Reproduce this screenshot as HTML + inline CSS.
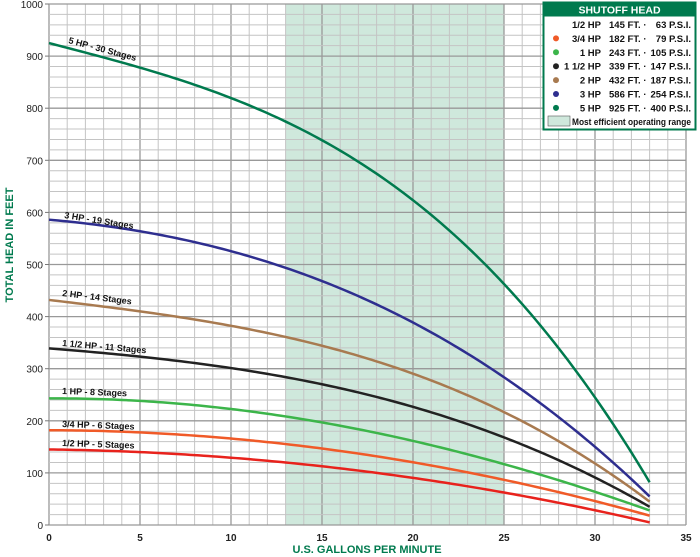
<!DOCTYPE html>
<html><head><meta charset="utf-8"><style>
html,body{margin:0;padding:0;background:#fff;}
svg{display:block;font-family:"Liberation Sans",sans-serif;}
</style></head><body>
<svg id="s" width="700" height="557" viewBox="0 0 700 557" xmlns="http://www.w3.org/2000/svg">
<rect x="0" y="0" width="700" height="557" fill="#fff"/>
<rect x="285.6" y="4" width="218.4" height="521" fill="#cfe8dc"/>
<g id="grid"></g>
<g id="curves"></g>
<g font-size="9" font-weight="bold" fill="#111">
<text transform="translate(68,43) rotate(15)">5 HP - 30 Stages</text>
<text transform="translate(64,218) rotate(9)">3 HP - 19 Stages</text>
<text transform="translate(62,296) rotate(7)">2 HP - 14 Stages</text>
<text transform="translate(62,346) rotate(5)">1 1/2 HP - 11 Stages</text>
<text transform="translate(62,394) rotate(2)">1 HP - 8 Stages</text>
<text transform="translate(62,427) rotate(2)">3/4 HP - 6 Stages</text>
<text transform="translate(62,446) rotate(2)">1/2 HP - 5 Stages</text>
</g>
<g id="ticks" font-size="10" fill="#222"></g>
<text transform="translate(13,245) rotate(-90)" text-anchor="middle" font-size="11" font-weight="bold" fill="#007a4e">TOTAL HEAD IN FEET</text>
<text x="367" y="553" text-anchor="middle" font-size="11" font-weight="bold" fill="#007a4e">U.S. GALLONS PER MINUTE</text>
<g>
<rect x="543.5" y="2.5" width="152" height="127" fill="#fff" stroke="#007a4e" stroke-width="2"/>
<rect x="543.5" y="2.5" width="152" height="14" fill="#007a4e"/>
<text x="619.5" y="13.5" text-anchor="middle" font-size="10.5" font-weight="bold" fill="#fff">SHUTOFF HEAD</text>
<g font-size="9.5" font-weight="bold" fill="#111" id="leg"></g>
<rect x="548" y="116" width="22" height="10" fill="#cfe8dc" stroke="#555" stroke-width="0.6"/>
<text x="572" y="125" font-size="9.5" font-weight="bold" fill="#111" textLength="119" lengthAdjust="spacingAndGlyphs">Most efficient operating range</text>
</g>
</svg>
<script>
var NS="http://www.w3.org/2000/svg";
function X(q){return 49+q*18.2;} function Y(h){return 525-h*0.521;}
function el(p,t,a,txt){var e=document.createElementNS(NS,t);for(var k in a)e.setAttribute(k,a[k]);if(txt!=null)e.textContent=txt;p.appendChild(e);return e;}
var g=document.getElementById('grid');
for(var i=0;i<=35;i++){el(g,'line',{x1:X(i),x2:X(i),y1:4,y2:525,stroke:i%5?'#c4c4c4':'#999','stroke-width':i%5?1:1.3});}
for(var h=0;h<=1000;h+=20){el(g,'line',{x1:49,x2:686,y1:Y(h),y2:Y(h),stroke:h%100?'#c4c4c4':'#999','stroke-width':h%100?1:1.3});}
var t=document.getElementById('ticks');
for(var h=0;h<=1000;h+=100){el(t,'text',{x:43,y:Y(h)+4,'text-anchor':'end'},String(h));el(g,'line',{x1:45,x2:49,y1:Y(h),y2:Y(h),stroke:'#777'});}
for(var q=0;q<=35;q+=5){el(t,'text',{x:X(q),y:541,'text-anchor':'middle','font-weight':'bold'},String(q));}
var qs=[0,5,10,13,15,20,25,30,33];
var C=[
['#e8221c',[145,140,130,120,112,90,62,30,5]],
['#f05a28',[182,176,166,155,148,122,85,45,18]],
['#3cb54a',[243,236,222,208,198,165,115,60,28]],
['#222222',[339,322,300,282,270,235,165,85,35]],
['#a87a50',[432,410,382,358,342,300,215,110,45]],
['#2e2e8f',[586,565,528,493,460,393,293,135,55]],
['#007a4e',[925,880,820,775,735,625,460,250,82]]];
// weighted least squares polynomial fit, anchored at q=0 and q=33
function fit(ys){var n=4,A=[],B=[];for(var i=0;i<n;i++){A.push([0,0,0,0]);B.push(0);}
qs.forEach(function(q,k){var w=(k==0||k==qs.length-1)?50:1;var u=q/33;var p=[1,u,u*u,u*u*u];
for(var i=0;i<n;i++){B[i]+=w*p[i]*ys[k];for(var j=0;j<n;j++)A[i][j]+=w*p[i]*p[j];}});
for(var i=0;i<n;i++){for(var r=i+1;r<n;r++){var f=A[r][i]/A[i][i];for(var j=i;j<n;j++)A[r][j]-=f*A[i][j];B[r]-=f*B[i];}}
var c=[0,0,0,0];for(var i=n-1;i>=0;i--){var s=B[i];for(var j=i+1;j<n;j++)s-=A[i][j]*c[j];c[i]=s/A[i][i];}return c;}
var cg=document.getElementById('curves');
C.forEach(function(c){var k=fit(c[1]);var d='';
for(var q=0;q<=33.001;q+=0.25){var u=q/33;var h=k[0]+k[1]*u+k[2]*u*u+k[3]*u*u*u;d+=(q==0?'M':'L')+X(q).toFixed(2)+','+Y(h).toFixed(2);}
el(cg,'path',{d:d,fill:'none',stroke:c[0],'stroke-width':2.5});});
var L=[['#fff','1/2 HP','145 FT. ·','63 P.S.I.'],['#f05a28','3/4 HP','182 FT. ·','79 P.S.I.'],['#3cb54a','1 HP','243 FT. ·','105 P.S.I.'],['#222','1 1/2 HP','339 FT. ·','147 P.S.I.'],['#a87a50','2 HP','432 FT. ·','187 P.S.I.'],['#2e2e8f','3 HP','586 FT. ·','254 P.S.I.'],['#007a4e','5 HP','925 FT. ·','400 P.S.I.']];
var lg=document.getElementById('leg');
L.forEach(function(r,i){var y=28+i*13.9;
if(i>0)el(lg,'circle',{cx:556,cy:y-3.5,r:3,fill:r[0]});
el(lg,'text',{x:601,y:y,'text-anchor':'end'},r[1]);
el(lg,'text',{x:609,y:y},r[2]);
el(lg,'text',{x:691,y:y,'text-anchor':'end'},r[3]);});
</script>
</body></html>
